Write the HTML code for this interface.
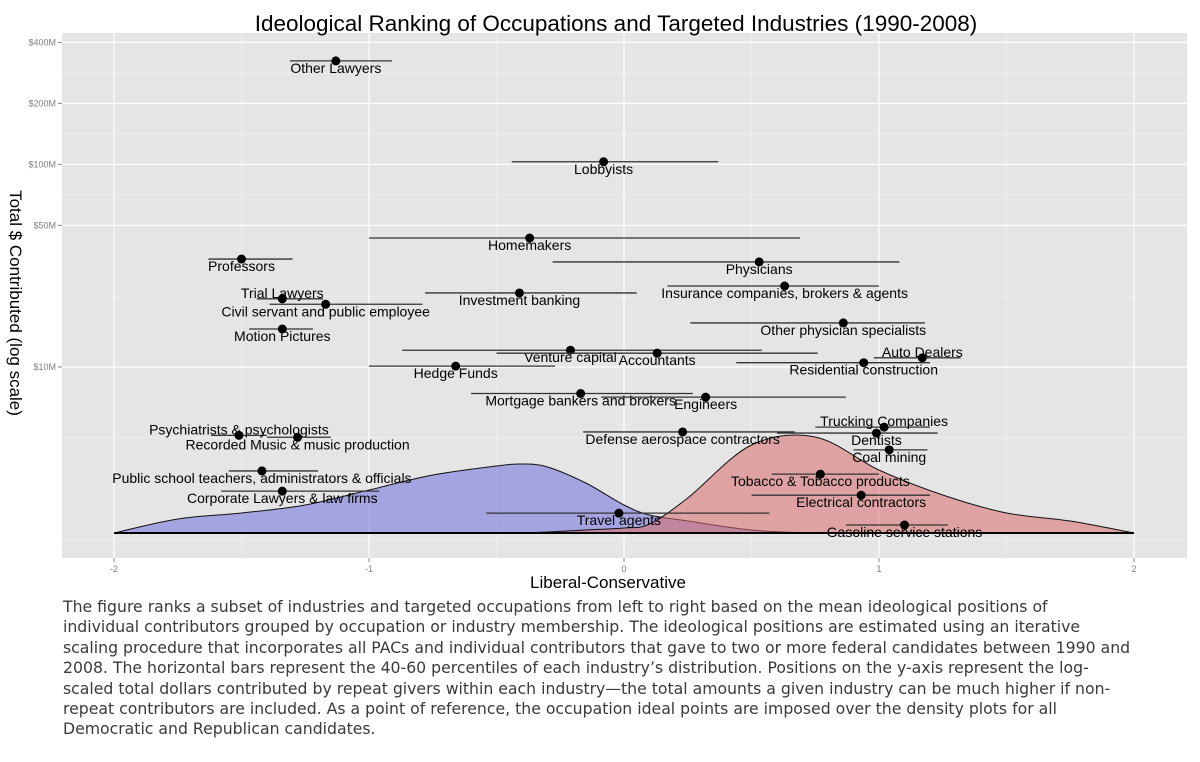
<!DOCTYPE html>
<html><head><meta charset="utf-8">
<style>
html,body{margin:0;padding:0;background:#fff;width:1200px;height:762px;overflow:hidden}
#caption{position:absolute;left:63px;top:597px;font-family:"DejaVu Sans","Liberation Sans",sans-serif;font-size:15.7px;line-height:20.4px;color:#3a3a3a;white-space:nowrap}
</style></head>
<body>
<svg id="chart" width="1200" height="590" style="position:absolute;left:0;top:0" xmlns="http://www.w3.org/2000/svg"></svg>
<div id="caption">
<div>The figure ranks a subset of industries and targeted occupations from left to right based on the mean ideological positions of</div>
<div>individual contributors grouped by occupation or industry membership. The ideological positions are estimated using an iterative</div>
<div>scaling procedure that incorporates all PACs and individual contributors that gave to two or more federal candidates between 1990 and</div>
<div>2008. The horizontal bars represent the 40-60 percentiles of each industry’s distribution. Positions on the y-axis represent the log-</div>
<div>scaled total dollars contributed by repeat givers within each industry—the total amounts a given industry can be much higher if non-</div>
<div>repeat contributors are included. As a point of reference, the occupation ideal points are imposed over the density plots for all</div>
<div>Democratic and Republican candidates.</div>
</div>
<script>
const names=["Other Lawyers","Lobbyists","Homemakers","Professors","Physicians","Insurance companies, brokers & agents","Investment banking","Trial Lawyers","Civil servant and public employee","Motion Pictures","Other physician specialists","Venture capital","Accountants","Auto Dealers","Residential construction","Hedge Funds","Mortgage bankers and brokers","Engineers","Trucking Companies","Defense aerospace contractors","Dentists","Psychiatrists & psychologists","Recorded Music & music production","Coal mining","Public school teachers, administrators & officials","Tobacco & Tobacco products","Corporate Lawyers & law firms","Electrical contractors","Travel agents","Gasoline service stations"];
const ideal=[-1.13,-0.08,-0.37,-1.5,0.53,0.63,-0.41,-1.34,-1.17,-1.34,0.86,-0.21,0.13,1.17,0.94,-0.66,-0.17,0.32,1.02,0.23,0.99,-1.51,-1.28,1.04,-1.42,0.77,-1.34,0.93,-0.02,1.1];
const pct40=[-1.31,-0.44,-1.0,-1.63,-0.28,0.17,-0.78,-1.44,-1.39,-1.47,0.26,-0.87,-0.5,0.98,0.44,-1.0,-0.6,-0.09,0.75,-0.16,0.6,-1.62,-1.4,0.9,-1.55,0.58,-1.58,0.5,-0.54,0.87];
const pct60=[-0.91,0.37,0.69,-1.3,1.08,1.0,0.05,-1.18,-0.79,-1.22,1.18,0.54,0.76,1.32,1.2,-0.27,0.27,0.87,1.2,0.67,1.23,-1.4,-1.15,1.19,-1.2,1.0,-0.96,1.2,0.57,1.27];
const totalM=[324,103,43.3,34.1,33,25.1,23.2,21.7,20.4,15.4,16.5,12.1,11.7,11.1,10.5,10.1,7.4,7.1,5.05,4.78,4.72,4.6,4.5,3.9,3.07,2.96,2.44,2.33,1.9,1.66];
const labelAbove=["Trial Lawyers","Auto Dealers","Trucking Companies","Psychiatrists & psychologists"];
const densX=[-2,-1.75,-1.5,-1.25,-1,-0.75,-0.5,-0.4,-0.3,-0.15,0,0.1,0.25,0.5,0.75,1,1.25,1.5,1.75,2];
const demDensity=[0,14,20,28,43,58,67,69,66,50,28,18,12,3,0,0,0,0,0,0];
const repDensity=[0,0,0,0,0,0,0,0,1,3,5,9,35,88,96,63,38,20,12,0];
const xTicks=[-2,-1,0,1,2];
const yTicks=[10,50,100,200,400];
const yTickLabels=["$10M","$50M","$100M","$200M","$400M"];

const svg=document.getElementById('chart');
const NS='http://www.w3.org/2000/svg';
function el(t,a,p){const e=document.createElementNS(NS,t);for(const k in a)e.setAttribute(k,a[k]);(p||svg).appendChild(e);return e;}
const X=v=>624+v*255;
const Y=m=>367-61*Math.log2(m/10);
const DY=d=>533-d;
const PL=62,PR=1187,PT=33,PB=558;

const bg=el('rect',{x:PL,y:PT,width:PR-PL,height:PB-PT,fill:'#e5e5e5'});


for(let i=0;i<xTicks.length-1;i++){const v=(xTicks[i]+xTicks[i+1])/2;el('line',{x1:X(v),x2:X(v),y1:PT,y2:PB,stroke:'#f2f2f2','stroke-width':0.6});}
for(let i=0;i<yTicks.length-1;i++){const v=Math.sqrt(yTicks[i]*yTicks[i+1]);el('line',{x1:PL,x2:PR,y1:Y(v),y2:Y(v),stroke:'#f2f2f2','stroke-width':0.6});}
el('line',{x1:PL,x2:PR,y1:Y(Math.sqrt(10*2)),y2:Y(Math.sqrt(10*2)),stroke:'#f2f2f2','stroke-width':0.6});
el('line',{x1:PL,x2:PR,y1:Y(Math.sqrt(1*2)),y2:Y(Math.sqrt(1*2)),stroke:'#f2f2f2','stroke-width':0.6});
xTicks.forEach(v=>{
  el('line',{x1:X(v),x2:X(v),y1:PT,y2:PB,stroke:'#fff','stroke-width':1.2});
  el('line',{x1:X(v),x2:X(v),y1:PB,y2:PB+4,stroke:'#888','stroke-width':1});
  const t=el('text',{x:X(v),y:PB+14,'text-anchor':'middle','font-size':9,fill:'#7f7f7f','font-family':'Liberation Sans, sans-serif'});
  t.textContent=v;
  
  
});
yTicks.forEach((v,i)=>{
  el('line',{x1:PL,x2:PR,y1:Y(v),y2:Y(v),stroke:'#fff','stroke-width':1.2});
  el('line',{x1:PL-4,x2:PL,y1:Y(v),y2:Y(v),stroke:'#888','stroke-width':1});
  const t=el('text',{x:PL-6,y:Y(v)+3,'text-anchor':'end','font-size':9,fill:'#7f7f7f','font-family':'Liberation Sans, sans-serif'});
  t.textContent=yTickLabels[i];
  
  
});
function area(vals,fill,name){
  const pts=densX.map((x,i)=>[X(x),DY(vals[i])]);
  let d=`M${pts[0][0]},${pts[0][1]}`;
  for(let i=0;i<pts.length-1;i++){
    const p0=pts[Math.max(0,i-1)],p1=pts[i],p2=pts[i+1],p3=pts[Math.min(pts.length-1,i+2)];
    const c1=[p1[0]+(p2[0]-p0[0])/6,p1[1]+(p2[1]-p0[1])/6],c2=[p2[0]-(p3[0]-p1[0])/6,p2[1]-(p3[1]-p1[1])/6];
    d+=` C${c1[0]},${Math.min(533,c1[1])} ${c2[0]},${Math.min(533,c2[1])} ${p2[0]},${p2[1]}`;
  }
  d+='Z';
  const p=el('path',{d,fill,'fill-opacity':0.55,stroke:'#111','stroke-width':1});
  
  
}
area(demDensity,'#6f6fdc','democrat-density');
area(repDensity,'#d86b6b','republican-density');
el('line',{x1:X(-2),x2:X(2),y1:533,y2:533,stroke:'#000','stroke-width':2});
names.forEach((n,i)=>{
  const y=Y(totalM[i]);
  const b=el('line',{x1:X(pct40[i]),x2:X(pct60[i]),y1:y,y2:y,stroke:'#333','stroke-width':1.3});
  
  
  const c=el('circle',{cx:X(ideal[i]),cy:y,r:4.5,fill:'#000'});
  
  
  const above=labelAbove.includes(n);
  const t=el('text',{x:X(ideal[i]),y:above?y-1:y+12,'text-anchor':'middle','font-size':14,fill:'#000','font-family':'Liberation Sans, sans-serif'});
  t.textContent=n;
  
  
});
const tt=el('text',{x:616,y:31,'text-anchor':'middle','font-size':22.5,fill:'#000','font-family':'Liberation Sans, sans-serif'});
tt.textContent='Ideological Ranking of Occupations and Targeted Industries (1990-2008)';


const xt=el('text',{x:608,y:588,'text-anchor':'middle','font-size':17,fill:'#000','font-family':'Liberation Sans, sans-serif'});
xt.textContent='Liberal-Conservative';


const yt=el('text',{x:0,y:0,'text-anchor':'middle','font-size':17,fill:'#000','font-family':'Liberation Sans, sans-serif',transform:'translate(10,303) rotate(90)'});
yt.textContent='Total $ Contributed (log scale)';


</script>
</body></html>
